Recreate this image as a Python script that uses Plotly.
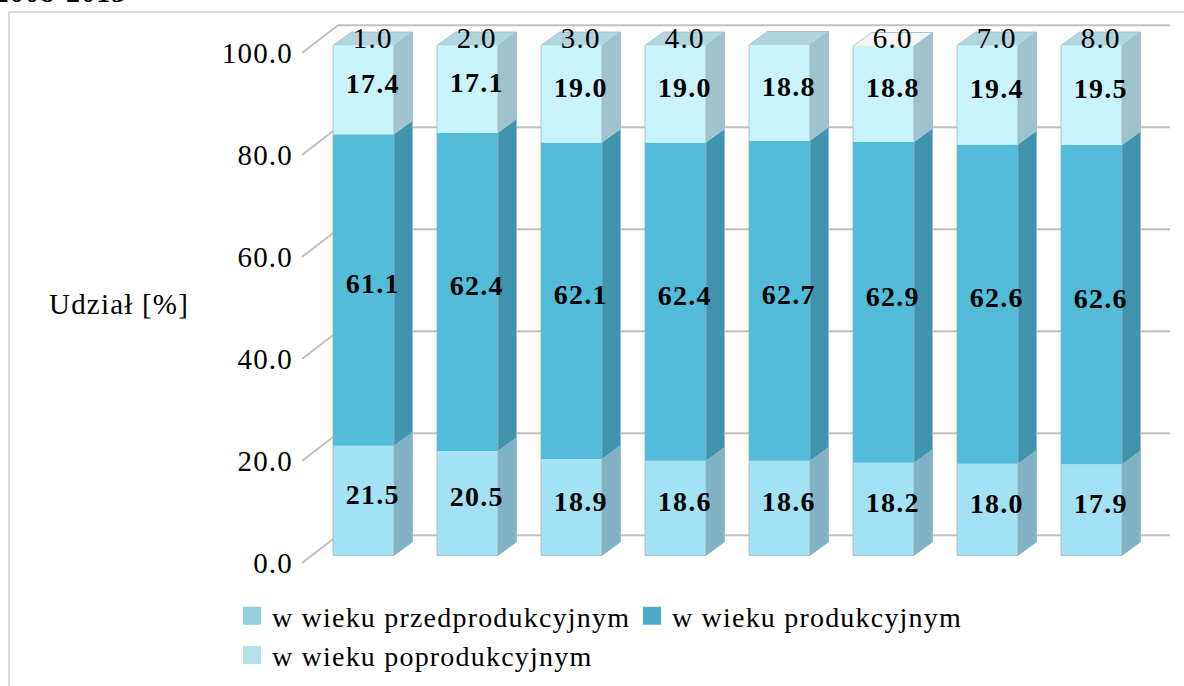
import plotly.graph_objects as go

W, H = 1184, 686
categories = [0, 1, 2, 3, 4, 5, 6, 7]
przed = [21.5, 20.5, 18.9, 18.6, 18.6, 18.2, 18.0, 17.9]
prod = [61.1, 62.4, 62.1, 62.4, 62.7, 62.9, 62.6, 62.6]
po = [17.4, 17.1, 19.0, 19.0, 18.8, 18.8, 19.4, 19.5]
top_labels = ["1.0", "2.0", "3.0", "4.0", "", "6.0", "7.0", "8.0"]
top_colors = ["#b0d5df", "#b0d5df", "#b0d5df", "#b0d5df", "#b0d5df", "#f4f4f4", "#b0d5df", "#b0d5df"]
y_ticks = [0, 20, 40, 60, 80, 100]
names = ["w wieku przedprodukcyjnym", "w wieku produkcyjnym", "w wieku poprodukcyjnym"]
front_cols = ["#a3e2f5", "#52bcd9", "#c9f4fe"]
side_cols = ["#80b2c3", "#4194ae", "#a0c2cc"]
legend_cols = ["#93cfdf", "#4babc5", "#b6dfe9"]

PX_X = 104.0
PX_Y = 5.1
X0 = 363.5
Y0 = 555.5
L, R, T, B = 298, 1172, 20, 575
BAR_W = 61 / PX_X
DX = 18.5 / PX_X
DY = 13.5 / PX_Y
NUDGE = 3 / PX_Y
FONT = "Liberation Serif"

fig = go.Figure()
series = [przed, prod, po]
base = [0.0] * len(categories)
bases = []
for vals in series:
    bases.append(list(base))
    base = [b + v for b, v in zip(base, vals)]
totals = base

for vals, b, col, name in zip(series, bases, front_cols, names):
    fig.add_trace(go.Bar(x=categories, y=vals, base=b, width=BAR_W, marker=dict(color=col, line=dict(width=0)),
                         showlegend=False, name=name, hoverinfo="skip"))

hw = BAR_W / 2
for vals, b, col in zip(series, bases, side_cols):
    xs, ys = [], []
    for c, v, bb in zip(categories, vals, b):
        r = c + hw
        xs += [r, r + DX, r + DX, r, r, None]
        ys += [bb, bb + DY, bb + v + DY, bb + v, bb, None]
    fig.add_trace(go.Scatter(x=xs, y=ys, mode="lines", fill="toself", fillcolor=col, line=dict(width=0),
                             showlegend=False, hoverinfo="skip"))

for c, t, col in zip(categories, totals, top_colors):
    fig.add_trace(go.Scatter(x=[c - hw, c - hw + DX, c + hw + DX, c + hw, c - hw],
                             y=[t, t + DY, t + DY, t, t], mode="lines", fill="toself", fillcolor=col,
                             line=dict(width=0), showlegend=False, hoverinfo="skip"))

ox, oy = [], []
for c, t in zip(categories, totals):
    l, r = c - hw, c + hw
    ox += [l, l, l + DX, r + DX, r + DX, r, l, None, r, r, r + DX, None]
    oy += [0, t, t + DY, t + DY, DY, 0, 0, None, 0, t, t + DY, None]
fig.add_trace(go.Scatter(x=ox, y=oy, mode="lines", line=dict(color="rgba(150,180,190,0.75)", width=1),
                         showlegend=False, hoverinfo="skip"))

for vals, b in zip(series, bases):
    fig.add_trace(go.Scatter(x=[c + DX / 2 for c in categories],
                             y=[bb + v / 2 + DY / 2 - NUDGE for bb, v in zip(b, vals)],
                             text=[f"{v:.1f}" for v in vals], mode="text", textposition="middle center",
                             textfont=dict(family=FONT, size=28, color="#000000"),
                             texttemplate="<b>%{text}</b>", showlegend=False, hoverinfo="skip"))
fig.add_trace(go.Scatter(x=[c + DX / 2 for c in categories], y=[t + DY / 2 - NUDGE * 0.6 for t in totals],
                         text=top_labels, mode="text", textposition="middle center",
                         textfont=dict(family=FONT, size=29, color="#000000"), showlegend=False, hoverinfo="skip"))

for name, col in zip(names, legend_cols):
    fig.add_trace(go.Scatter(x=[None], y=[None], mode="markers", name=name,
                             marker=dict(symbol="square", size=16, color=col, line=dict(color=col, width=2))))

fig.add_trace(go.Scatter(x=[0] * len(y_ticks), y=y_ticks, yaxis="y2", mode="markers", marker=dict(opacity=0),
                         showlegend=False, hoverinfo="skip"))

shapes = []
wx0 = (302 - X0) / PX_X
wx1 = (338 - X0) / PX_X
wx2 = (1170 - X0) / PX_X
wall_front = (Y0 - 563) / PX_Y
wall_back = (Y0 - 535.2) / PX_Y
grid = dict(color="#c0c0c0", width=2)
for t in y_ticks:
    shapes.append(dict(type="line", xref="x", yref="y", layer="below", x0=wx0, x1=wx1,
                       y0=t + wall_front, y1=t + wall_back, line=grid))
    shapes.append(dict(type="line", xref="x", yref="y", layer="below", x0=wx1, x1=wx2,
                       y0=t + wall_back, y1=t + wall_back, line=grid))
border = dict(color="#d9d9d9", width=2)
shapes.append(dict(type="line", xref="paper", yref="paper", x0=9 / W, x1=9 / W, y0=0, y1=1 - 12 / H, line=border))
shapes.append(dict(type="line", xref="paper", yref="paper", x0=9 / W, x1=1, y0=1 - 12 / H, y1=1 - 12 / H, line=border))

fig.update_layout(
    width=W, height=H, margin=dict(l=0, r=0, t=0, b=0, autoexpand=False), paper_bgcolor="white", plot_bgcolor="rgba(0,0,0,0)",
    barmode="overlay", shapes=shapes,
    xaxis=dict(domain=[L / W, R / W], range=[(L - X0) / PX_X, (R - X0) / PX_X], visible=False),
    yaxis=dict(domain=[1 - B / H, 1 - T / H], range=[(Y0 - B) / PX_Y, (Y0 - T) / PX_Y], visible=False),
    yaxis2=dict(domain=[1 - B / H, 1 - T / H], overlaying="y", side="left", anchor="x",
                range=[(563 - B) / PX_Y, (563 - T) / PX_Y], tickvals=y_ticks, tickformat=".1f", showgrid=False,
                zeroline=False, showline=False, ticks="", ticklabelstandoff=4,
                tickfont=dict(family=FONT, size=29, color="#000000")),
    legend=dict(orientation="h", x=232 / W, xanchor="left", y=1 - 591 / H, yanchor="top",
                font=dict(family=FONT, size=28, color="#000000"), entrywidth=355, entrywidthmode="pixels",
                bgcolor="rgba(0,0,0,0)", itemclick=False, itemdoubleclick=False),
    showlegend=True,
    annotations=[
        dict(text="Udział [%]", xref="paper", yref="paper", x=119 / W, y=1 - 304 / H, xanchor="center", yanchor="middle",
             showarrow=False, font=dict(family=FONT, size=29, color="#000000")),
        dict(text="<b>2008-2013</b>", xref="paper", yref="paper", x=-2 / W, y=1 + 25 / H, xanchor="left", yanchor="top",
             showarrow=False, font=dict(family=FONT, size=28, color="#000000")),
    ],
)
post = """document.body.style.margin='0';
var s=document.createElement('style');
s.textContent='svg text{letter-spacing:1.2px}';
document.head.appendChild(s);"""
fig.write_html("out.html", post_script=post, config=dict(displayModeBar=False))
